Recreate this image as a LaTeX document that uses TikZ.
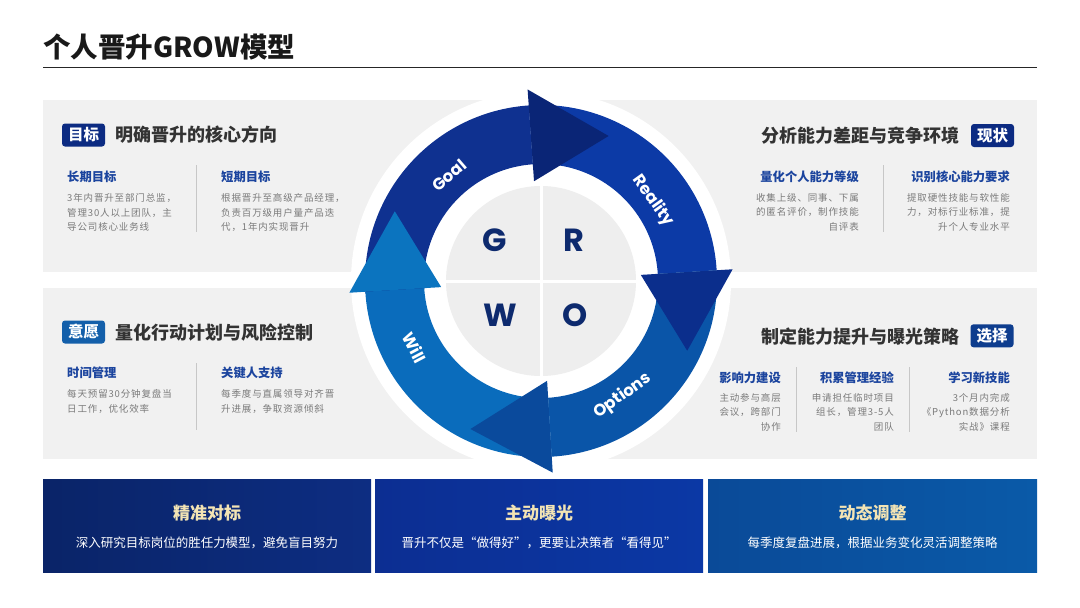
\documentclass[tikz,border=0pt]{standalone}
\usepackage{fontspec}
\setmainfont{Noto Sans CJK SC}
\newfontfamily\pop{Poppins}
\newfontfamily\bodyf{Noto Sans CJK SC}[LetterSpace=9]
\usetikzlibrary{calc}
\definecolor{panelgray}{HTML}{F1F1F1}
\definecolor{discgray}{HTML}{EEEEEE}
\definecolor{navy}{HTML}{0C2B82}
\definecolor{willbadge}{HTML}{135FAA}
\definecolor{optbadge}{HTML}{0E3D8E}
\definecolor{subblue}{HTML}{1B449E}
\definecolor{bodygray}{HTML}{7A7A7A}
\definecolor{headgray}{HTML}{333333}
\definecolor{gold}{HTML}{F3E4B4}
\definecolor{growtext}{HTML}{0D2A6E}
\definecolor{goalc}{HTML}{0F3190}
\definecolor{goalh}{HTML}{0A2576}
\definecolor{realc}{HTML}{0C3AA6}
\definecolor{realh}{HTML}{0B2E8C}
\definecolor{optc}{HTML}{0A55A8}
\definecolor{opth}{HTML}{0A4A9C}
\definecolor{willc}{HTML}{0A6CBC}
\definecolor{willh}{HTML}{0B74BF}
\definecolor{boxa1}{HTML}{0A2468}
\definecolor{boxa2}{HTML}{0D2D82}
\definecolor{boxb1}{HTML}{0C2E92}
\definecolor{boxb2}{HTML}{0B38A5}
\definecolor{boxc1}{HTML}{0A4A98}
\definecolor{boxc2}{HTML}{0A5AA8}
\tikzset{
  badge/.style={fill=navy, rounded corners=3pt, text=white, font=\fontsize{15.5}{16}\selectfont\bfseries, minimum width=43pt, minimum height=23pt, inner sep=0pt},
  heading/.style={font=\fontsize{18}{20}\selectfont\bfseries, text=headgray, inner sep=0pt},
  subhead/.style={font=\fontsize{12.3}{14}\selectfont\bfseries, text=subblue, inner sep=0pt},
  bodytext/.style={font=\bodyf\fontsize{9.5}{14.5}\selectfont, text=bodygray, inner sep=0pt},
  divider/.style={draw=black!22, line width=0.8pt},
  ringlabel/.style={font=\pop\fontsize{16.5}{18}\selectfont\bfseries, text=white, inner sep=0pt},
  growletter/.style={font=\pop\fontsize{32}{34}\selectfont\bfseries, text=growtext, inner sep=0pt},
  btitle/.style={font=\fontsize{17}{18}\selectfont\bfseries, text=gold, inner sep=0pt},
  bsub/.style={font=\fontsize{12.5}{14}\selectfont, text=white, inner sep=0pt}
}
\begin{document}
\begin{tikzpicture}[x=1pt, y=-1pt]
\useasboundingbox (0,0) rectangle (1080,608);
\fill[white] (0,0) rectangle (1080,608);
% title
\node[anchor=west, inner sep=0pt, font=\fontsize{27.5}{29}\selectfont\bfseries, text=black!90] (title) at (43,47) {个人晋升GROW模型};
\draw[line width=1.5pt, black!85] (43,67.5) -- (1037,67.5);
% panels
\fill[panelgray] (43,100) rectangle (1037,272);
\fill[panelgray] (43,288) rectangle (1037,459);
% top-left
\node[badge] (b1) at (83.5,135) {目标};
\node[heading, anchor=west] (h1) at (115,135) {明确晋升的核心方向};
\node[subhead, anchor=west] (s11) at (67,176.5) {长期目标};
\node[bodytext, anchor=north west, align=left] (t11) at (67,193.5) {3年内晋升至部门总监，\\管理30人以上团队，主\\导公司核心业务线};
\draw[divider] (196.5,165) -- (196.5,232);
\node[subhead, anchor=west] (s12) at (221,176.5) {短期目标};
\node[bodytext, anchor=north west, align=left] (t12) at (221,193.5) {根据晋升至高级产品经理，\\负责百万级用户量产品迭\\代，1年内实现晋升};
% top-right
\node[badge] (b2) at (992.5,135.5) {现状};
\node[heading, anchor=east] (h2) at (960,136) {分析能力差距与竞争环境};
\node[subhead, anchor=east] (s21) at (859,177) {量化个人能力等级};
\node[bodytext, anchor=north east, align=right] (t21) at (859,193) {收集上级、同事、下属\\的匿名评价，制作技能\\自评表};
\draw[divider] (883.5,165) -- (883.5,232);
\node[subhead, anchor=east] (s22) at (1010,177) {识别核心能力要求};
\node[bodytext, anchor=north east, align=right] (t22) at (1010,193) {提取硬性技能与软性能\\力，对标行业标准，提\\升个人专业水平};
% middle-left
\node[badge, fill=willbadge] (b3) at (83.5,332) {意愿};
\node[heading, anchor=west] (h3) at (115,333) {量化行动计划与风险控制};
\node[subhead, anchor=west] (s31) at (67,373) {时间管理};
\node[bodytext, anchor=north west, align=left] (t31) at (67,389.5) {每天预留30分钟复盘当\\日工作，优化效率};
\draw[divider] (196.5,363) -- (196.5,430);
\node[subhead, anchor=west] (s32) at (221,373) {关键人支持};
\node[bodytext, anchor=north west, align=left] (t32) at (221,389.5) {每季度与直属领导对齐晋\\升进展，争取资源倾斜};
% middle-right
\node[badge, fill=optbadge] (b4) at (992,335.8) {选择};
\node[heading, anchor=east] (h4) at (960,337) {制定能力提升与曝光策略};
\node[subhead, anchor=east] (s41) at (781,378) {影响力建设};
\node[bodytext, anchor=north east, align=right] (t41) at (781,393) {主动参与高层\\会议，跨部门\\协作};
\draw[divider] (796.5,367) -- (796.5,432);
\node[subhead, anchor=east] (s42) at (894,378) {积累管理经验};
\node[bodytext, anchor=north east, align=right] (t42) at (894,393) {申请担任临时项目\\组长，管理3-5人\\团队};
\draw[divider] (909.5,367) -- (909.5,432);
\node[subhead, anchor=east] (s43) at (1010,378) {学习新技能};
\node[bodytext, anchor=north east, align=right] (t43) at (1010,393) {3个月内完成\\《Python数据分析\\实战》课程};
% ring
\fill[white] (541,281) circle (190);
\begin{scope}[shift={(541,281)}, y=1pt]
  \fill[goalc] (184:176) arc[start angle=184, end angle=94, radius=176] -- (94:117) arc[start angle=94, end angle=184, radius=117] -- cycle;
  \fill[realc] (94:176) arc[start angle=94, end angle=3.5, radius=176] -- (3.5:117) arc[start angle=3.5, end angle=94, radius=117] -- cycle;
  \fill[optc] (3.5:176) arc[start angle=3.5, end angle=-86.5, radius=176] -- (-86.5:117) arc[start angle=-86.5, end angle=3.5, radius=117] -- cycle;
  \fill[willc] (-86.5:176) arc[start angle=-86.5, end angle=-176.5, radius=176] -- (-176.5:117) arc[start angle=-176.5, end angle=-86.5, radius=117] -- cycle;
  \fill[goalh] (94:100) -- (94:192) -- (65:160) -- cycle;
  \fill[realh] (3.5:100) -- (3.5:192) -- (-25.5:162) -- cycle;
  \fill[opth] (-86.5:100) -- (-86.5:192) -- (-115.5:164) -- cycle;
  \fill[willh] (183.5:100) -- (183.5:192) -- (154.5:162) -- cycle;
  \node[ringlabel, rotate=41] (lg) at (131:140) {Goal};
  \node[ringlabel, rotate=-54.4] (lr) at (35.6:138) {Reality};
  \node[ringlabel, rotate=35.4] (lo) at (-54.6:141) {Options};
  \node[ringlabel, rotate=-62.2] (lw) at (207.8:143) {Will};
  \fill[discgray] (0,0) circle (95);
  \draw[white, line width=3pt] (-96,0) -- (96,0);
  \draw[white, line width=3pt] (0,-96) -- (0,96);
  \node[growletter] (gG) at (-46,41) {G};
  \node[growletter] (gR) at (33,41) {R};
  \node[growletter] (gW) at (-41,-34) {W};
  \node[growletter] (gO) at (34,-34) {O};
\end{scope}
% bottom boxes
\shade[left color=boxa1, right color=boxa2] (43,479) rectangle (371,572);
\shade[left color=boxb1, right color=boxb2] (375,479) rectangle (703,572);
\shade[left color=boxc1, right color=boxc2] (708,479) rectangle (1037,572);
\node[btitle] (bt1) at (207,513) {精准对标};
\node[bsub] (bs1) at (207,543) {深入研究目标岗位的胜任力模型，避免盲目努力};
\node[btitle] (bt2) at (539,513) {主动曝光};
\node[bsub] (bs2) at (539,543) {晋升不仅是“做得好”，更要让决策者“看得见”};
\node[btitle] (bt3) at (872.5,513) {动态调整};
\node[bsub] (bs3) at (872.5,543) {每季度复盘进展，根据业务变化灵活调整策略};
\end{tikzpicture}
\end{document}
